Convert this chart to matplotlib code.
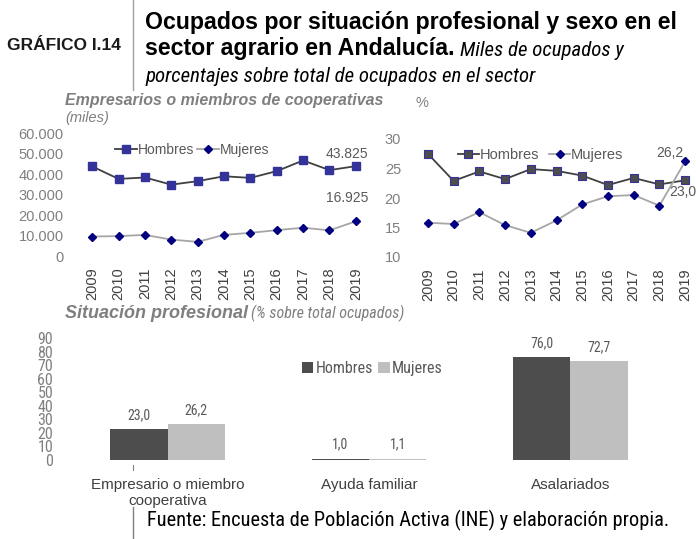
import matplotlib
matplotlib.use("Agg")
import matplotlib.pyplot as plt
from matplotlib import font_manager
from matplotlib.lines import Line2D
import numpy as np

# ---------------- data ----------------
years = ["2009", "2010", "2011", "2012", "2013", "2014", "2015", "2016", "2017", "2018", "2019"]
emp_hombres = [43700, 37600, 38300, 34800, 36500, 38900, 38100, 41400, 46600, 41900, 43825]
emp_mujeres = [9500, 9700, 10300, 8000, 6900, 10300, 11300, 12600, 13800, 12500, 16925]
pct_hombres = [27.5, 22.9, 24.5, 23.2, 24.9, 24.6, 23.8, 22.2, 23.4, 22.3, 23.0]
pct_mujeres = [15.8, 15.6, 17.6, 15.4, 14.1, 16.2, 18.9, 20.3, 20.5, 18.7, 26.2]
sit_categories = ["Empresario o miembro\ncooperativa", "Ayuda familiar", "Asalariados"]
sit_hombres = [23.0, 1.0, 76.0]
sit_mujeres = [26.2, 1.1, 72.7]
left_ticks = [0, 10000, 20000, 30000, 40000, 50000, 60000]
left_ticklabels = ["0", "10.000", "20.000", "30.000", "40.000", "50.000", "60.000"]
right_ticks = [10, 15, 20, 25, 30]
bar_ticks = [0, 10, 20, 30, 40, 50, 60, 70, 80, 90]

# ---------------- fonts ----------------
avail = {f.name for f in font_manager.fontManager.ttflist}
def pick(*names):
    for n in names:
        if n in avail:
            return n
    return "DejaVu Sans"
SANS = pick("Liberation Sans", "Arimo", "DejaVu Sans")
NARROW = pick("Liberation Sans Narrow", "DejaVu Sans Condensed", "Roboto Condensed", SANS)
plt.rcParams["font.family"] = SANS

W, H = 696, 539
fig = plt.figure(figsize=(W / 100, H / 100), dpi=100)

def fx(x):
    return x / W
def fy(y):
    return 1 - y / H
def ax_rect(l, t, r, b):
    return [fx(l), fy(b), (r - l) / W, (b - t) / H]

GREY_TICK = "#808080"
GREY_TXT = "#595959"
DARK_LINE = "#404040"
LIGHT_LINE = "#a6a6a6"
NAVY = "#000080"
BLUE_SQ = "#333399"

# ---------------- header ----------------
fig.text(fx(7), fy(46), "GRÁFICO I.14", fontsize=12.5, fontweight="bold",
         color="#1a1a1a", va="center", ha="left")
fig.add_artist(Line2D([fx(133), fx(133)], [fy(0), fy(90)], color="#a0a0a0", lw=1))
fig.text(fx(145), fy(22), "Ocupados por situación profesional y sexo en el",
         fontsize=16.7, fontweight="bold", color="black", va="center", ha="left")
t2 = fig.text(fx(145), fy(49), "sector agrario en Andalucía.",
              fontsize=16.7, fontweight="bold", color="black", va="center", ha="left")
fig.canvas.draw()
bb = t2.get_window_extent()
fig.text(bb.x1 / W + 5 / W, fy(51), "Miles de ocupados y", fontsize=15, style="italic",
         family=NARROW, color="black", va="center", ha="left")
fig.text(fx(145), fy(77), "porcentajes sobre total de ocupados en el sector",
         fontsize=15, style="italic", family=NARROW, color="black", va="center", ha="left")

# ---------------- left line chart ----------------
x = np.arange(len(years))
ax1 = fig.add_axes(ax_rect(79, 133, 369, 256))
ax1.plot(x, emp_hombres, color=DARK_LINE, lw=1.3, marker="s", ms=6,
         mfc=BLUE_SQ, mec=BLUE_SQ, label="Hombres")
ax1.plot(x, emp_mujeres, color=LIGHT_LINE, lw=1.3, marker="D", ms=4.5,
         mfc=NAVY, mec=NAVY, label="Mujeres")
ax1.set_xlim(-0.5, len(years) - 0.5)
ax1.set_ylim(0, 60000)
ax1.set_yticks(left_ticks)
ax1.set_yticklabels(left_ticklabels)
ax1.set_xticks(x)
ax1.set_xticklabels(years, rotation=90)
ax1.tick_params(axis="y", length=0, labelsize=10.5, labelcolor=GREY_TICK, pad=11)
ax1.tick_params(axis="x", length=0, labelsize=10.5, labelcolor="#404040", pad=8)
for s in ax1.spines.values():
    s.set_visible(False)
ax1.annotate("43.825", (x[-1], emp_hombres[-1]), xytext=(-6.5, 3.5), textcoords="offset points",
             ha="center", va="bottom", fontsize=10, color=GREY_TXT)
ax1.annotate("16.925", (x[-1], emp_mujeres[-1]), xytext=(-6.5, 12), textcoords="offset points",
             ha="center", va="bottom", fontsize=10, color=GREY_TXT)
ax1.legend(loc="upper left", bbox_to_anchor=(0.095, 0.985), ncol=2, frameon=False,
           fontsize=10, handlelength=1.6, handletextpad=0.05, columnspacing=0.2,
           borderaxespad=0.2, labelcolor=GREY_TXT)
fig.text(fx(65), fy(101), "Empresarios o miembros de cooperativas", fontsize=11.5,
         fontweight="bold", style="italic", color="#7f7f7f", va="center", ha="left")
fig.text(fx(65), fy(118), "(miles)", fontsize=10.5, style="italic", color="#7f7f7f",
         va="center", ha="left")

# ---------------- right line chart ----------------
ax2 = fig.add_axes(ax_rect(415, 139, 698, 257))
ax2.plot(x, pct_hombres, color=DARK_LINE, lw=1.3, marker="s", ms=6,
         mfc="#4d4d4d", mec=BLUE_SQ, mew=0.8, label="Hombres")
ax2.plot(x, pct_mujeres, color=LIGHT_LINE, lw=1.3, marker="D", ms=4.5,
         mfc=NAVY, mec=NAVY, label="Mujeres")
ax2.set_xlim(-0.5, len(years) - 0.5)
ax2.set_ylim(10, 30)
ax2.set_yticks(right_ticks)
ax2.set_xticks(x)
ax2.set_xticklabels(years, rotation=90)
ax2.tick_params(axis="y", length=0, labelsize=10.5, labelcolor=GREY_TICK, pad=10)
ax2.tick_params(axis="x", length=0, labelsize=10.5, labelcolor="#404040", pad=8)
for s in ax2.spines.values():
    s.set_visible(False)
ax2.annotate("26,2", (x[-1], pct_mujeres[-1]), xytext=(-11, 1), textcoords="offset points",
             ha="center", va="bottom", fontsize=10, color=GREY_TXT)
ax2.annotate("23,0", (x[-1], pct_hombres[-1]), xytext=(-2, -3.5), textcoords="offset points",
             ha="center", va="top", fontsize=10, color=GREY_TXT)
ax2.legend(loc="upper left", bbox_to_anchor=(0.125, 0.985), ncol=2, frameon=False,
           fontsize=10.5, handlelength=1.45, handletextpad=0.05, columnspacing=0.7,
           borderaxespad=0.1, labelcolor=GREY_TXT)
fig.text(fx(415), fy(103), "%", fontsize=10.5, color=GREY_TICK, va="center", ha="left")

# ---------------- bar chart ----------------
ts = fig.text(fx(65), fy(313), "Situación profesional", fontsize=13, fontweight="bold",
              style="italic", color="#7f7f7f", va="center", ha="left")
fig.canvas.draw()
bb = ts.get_window_extent()
fig.text(bb.x1 / W + 3 / W, fy(313), "(% sobre total ocupados)", fontsize=11.5, style="italic",
         family=NARROW, color="#7f7f7f", va="center", ha="left")
ax3 = fig.add_axes(ax_rect(67, 338, 671, 460))
xc = np.arange(len(sit_categories))
bw = 0.285
b1 = ax3.bar(xc - bw / 2, sit_hombres, bw, color="#4d4d4d", label="Hombres")
b2 = ax3.bar(xc + bw / 2, sit_mujeres, bw, color="#bfbfbf", label="Mujeres")
for rects, vals in ((b1, sit_hombres), (b2, sit_mujeres)):
    for r, v in zip(rects, vals):
        ax3.annotate(f"{v:.1f}".replace(".", ","), (r.get_x() + r.get_width() / 2, v),
                     xytext=(0, 5), textcoords="offset points", ha="center", va="bottom",
                     fontsize=10, family=NARROW, color=GREY_TXT)
ax3.set_xlim(-0.5, len(sit_categories) - 0.5)
ax3.set_ylim(0, 90)
ax3.set_yticks(bar_ticks)
ax3.set_xticks(xc)
ax3.set_xticklabels(sit_categories, fontsize=11, color="#404040", linespacing=1.15)
ax3.tick_params(axis="y", length=0, labelsize=11.5, labelcolor=GREY_TICK, pad=10)
ax3.tick_params(axis="x", length=0, pad=13)
for lbl in ax3.get_yticklabels():
    lbl.set_family(NARROW)
for s in ax3.spines.values():
    s.set_visible(False)
ax3.legend(loc="center left", bbox_to_anchor=(0.365, 0.75), ncol=2, frameon=False,
           handlelength=0.7, handleheight=0.7, handletextpad=0.15,
           columnspacing=0.35, labelcolor=GREY_TXT, prop={"family": NARROW, "size": 11.5})
fig.add_artist(Line2D([fx(133), fx(133)], [fy(465), fy(470)], color="#808080", lw=0.8))

# ---------------- footer ----------------
fig.add_artist(Line2D([fx(133), fx(133)], [fy(507), fy(539)], color="#808080", lw=1))
fig.text(fx(147), fy(520), "Fuente: Encuesta de Población Activa (INE) y elaboración propia.",
         fontsize=14.7, family=NARROW, color="black", va="center", ha="left")

fig.savefig("out.png", dpi=100)
